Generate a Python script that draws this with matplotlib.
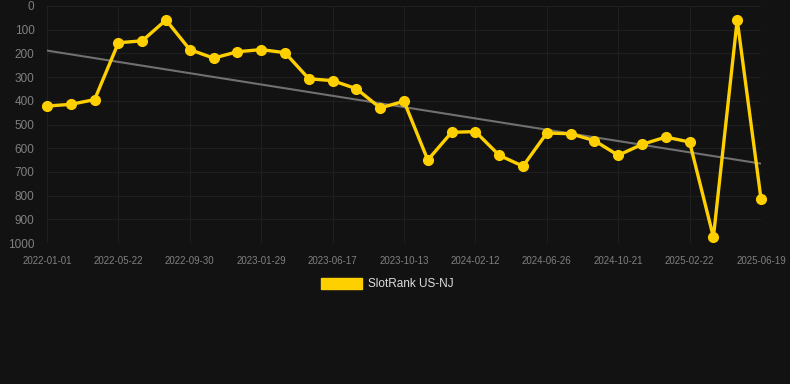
import matplotlib
matplotlib.use("Agg")
import matplotlib.pyplot as plt
import numpy as np

# rank per sample (lower is better)
ranks = [422, 415, 395, 155, 147, 59, 184, 220, 193, 184, 197, 307, 315, 349,
         430, 402, 650, 533, 530, 630, 676, 536, 539, 568, 630, 584, 553, 574,
         975, 59, 814]
tick_labels = ["2022-01-01", "2022-05-22", "2022-09-30", "2023-01-29", "2023-06-17",
               "2023-10-13", "2024-02-12", "2024-06-26", "2024-10-21", "2025-02-22",
               "2025-06-19"]
series_name = "SlotRank US-NJ"

bg = "#121212"
gold = "#FFD000"
plt.rcParams["font.family"] = ["Liberation Sans", "DejaVu Sans"]

x = np.arange(len(ranks))
fit = np.polyfit(x, ranks, 1)

fig = plt.figure(figsize=(7.9, 3.84), dpi=100, facecolor=bg)
ax = fig.add_axes([47/790, 1-243/384, (761-47)/790, (243-6)/384])
ax.set_facecolor(bg)

ax.plot(x, np.polyval(fit, x), color="#707070", lw=1.5, zorder=2)
ax.plot(x, ranks, color=gold, lw=2.4, marker="o", ms=7,
        solid_joinstyle="miter", zorder=3, clip_on=False, label=series_name)

ax.set_xlim(0, len(ranks)-1)
ax.set_ylim(1000, 0)
ax.set_yticks(range(0, 1001, 100))
ax.set_xticks(x[::3])
ax.set_xticklabels(tick_labels)
ax.grid(True, color="#1f1f1f", lw=0.8)
for s in ax.spines.values():
    s.set_visible(False)
ax.tick_params(axis="y", length=0, pad=9, labelsize=8.5, labelcolor="#808080")
ax.tick_params(axis="x", length=0, pad=9, labelsize=7, labelcolor="#808080")

handle = plt.Rectangle((0, 0), 1, 1, color=gold)
fig.legend([handle], [series_name], loc="center", bbox_to_anchor=(0.49, 1-284/384),
           frameon=False, labelcolor="#dddddd", fontsize=8.5, handlelength=3.5,
           handleheight=1.1, handletextpad=0.5)

fig.savefig("out.png", dpi=100, facecolor=bg)
